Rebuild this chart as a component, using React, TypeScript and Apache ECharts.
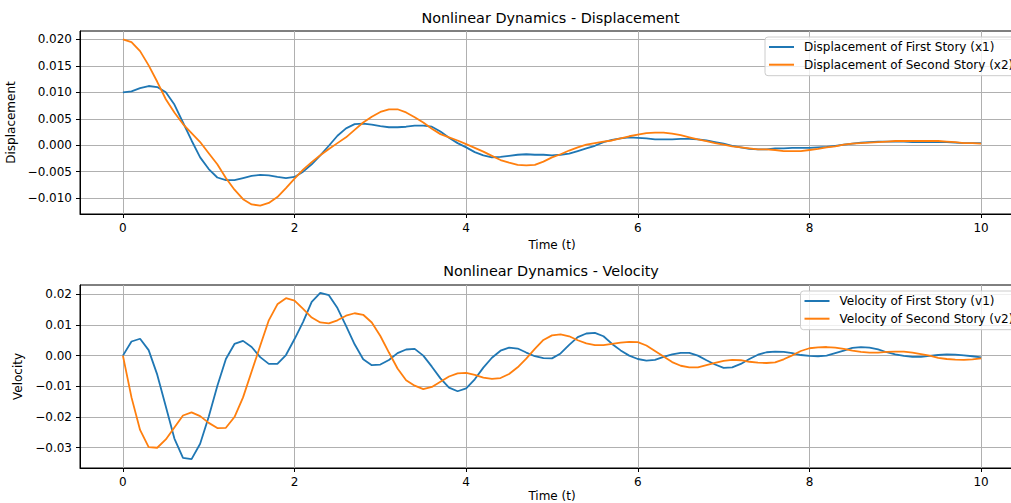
import React, { useEffect, useRef } from 'react';
import * as echarts from 'echarts';

// sample times 0.0 .. 10.0 (step 0.1)
const TIME: number[] = Array.from({ length: 101 }, (_, i) => Math.round(i) / 10);

const X1 = [
  0.0100, 0.0102, 0.0108, 0.0112, 0.0110, 0.0100, 0.0077, 0.0043, 0.0009, -0.0023,
  -0.0045, -0.0061, -0.0066, -0.0066, -0.0062, -0.0058, -0.0056, -0.0057, -0.0060, -0.0062,
  -0.0060, -0.0050, -0.0036, -0.0019, -0.0001, 0.0018, 0.0032, 0.0040, 0.0041, 0.0039,
  0.0036, 0.0034, 0.0034, 0.0035, 0.0037, 0.0037, 0.0035, 0.0026, 0.0014, 0.0004,
  -0.0004, -0.0013, -0.0019, -0.0023, -0.0022, -0.0020, -0.0018, -0.0017, -0.0018, -0.0018,
  -0.0019, -0.0018, -0.0016, -0.0011, -0.0006, -0.0001, 0.0006, 0.0010, 0.0013, 0.0015,
  0.0014, 0.0013, 0.0011, 0.0011, 0.0011, 0.0012, 0.0012, 0.0011, 0.0009, 0.0006,
  0.0003, -0.0001, -0.0004, -0.0007, -0.0008, -0.0008, -0.0006, -0.0006, -0.0005, -0.0005,
  -0.0005, -0.0004, -0.0003, -0.0001, 0.0001, 0.0003, 0.0005, 0.0006, 0.0007, 0.0007,
  0.0007, 0.0007, 0.0006, 0.0006, 0.0006, 0.0006, 0.0006, 0.0005, 0.0004, 0.0004, 0.0004,
];

const X2 = [
  0.0200, 0.0195, 0.0178, 0.0151, 0.0120, 0.0087, 0.0062, 0.0040, 0.0023, 0.0006,
  -0.0015, -0.0036, -0.0062, -0.0084, -0.0102, -0.0112, -0.0114, -0.0109, -0.0098, -0.0081,
  -0.0063, -0.0046, -0.0032, -0.0019, -0.0007, 0.0004, 0.0015, 0.0029, 0.0043, 0.0054,
  0.0063, 0.0068, 0.0068, 0.0062, 0.0053, 0.0043, 0.0031, 0.0021, 0.0015, 0.0009,
  0.0002, -0.0005, -0.0012, -0.0020, -0.0028, -0.0033, -0.0037, -0.0038, -0.0037, -0.0031,
  -0.0023, -0.0017, -0.0010, -0.0004, 0.0001, 0.0004, 0.0007, 0.0009, 0.0013, 0.0017,
  0.0020, 0.0023, 0.0024, 0.0024, 0.0022, 0.0019, 0.0015, 0.0011, 0.0008, 0.0004,
  0.0001, -0.0002, -0.0004, -0.0006, -0.0008, -0.0008, -0.0009, -0.0011, -0.0011, -0.0011,
  -0.0009, -0.0007, -0.0004, -0.0002, 0.0001, 0.0003, 0.0004, 0.0005, 0.0006, 0.0007,
  0.0008, 0.0008, 0.0008, 0.0008, 0.0008, 0.0008, 0.0007, 0.0006, 0.0004, 0.0004, 0.0003,
];

const V1 = [
  0.0000, 0.0046, 0.0055, 0.0018, -0.0062, -0.0166, -0.0270, -0.0333, -0.0337, -0.0287,
  -0.0199, -0.0099, -0.0011, 0.0038, 0.0048, 0.0028, -0.0005, -0.0027, -0.0027, 0.0002,
  0.0054, 0.0110, 0.0175, 0.0204, 0.0197, 0.0155, 0.0097, 0.0037, -0.0012, -0.0031,
  -0.0029, -0.0014, 0.0008, 0.0020, 0.0022, 0.0000, -0.0036, -0.0074, -0.0104, -0.0116,
  -0.0107, -0.0077, -0.0039, -0.0007, 0.0016, 0.0026, 0.0023, 0.0010, -0.0002, -0.0008,
  -0.0009, 0.0007, 0.0035, 0.0060, 0.0072, 0.0074, 0.0063, 0.0038, 0.0017, 0.0000,
  -0.0011, -0.0016, -0.0014, -0.0004, 0.0004, 0.0009, 0.0009, 0.0000, -0.0015, -0.0029,
  -0.0040, -0.0038, -0.0027, -0.0011, 0.0003, 0.0011, 0.0013, 0.0012, 0.0008, 0.0002,
  -0.0001, -0.0002, 0.0000, 0.0008, 0.0016, 0.0025, 0.0028, 0.0026, 0.0020, 0.0011,
  0.0004, -0.0001, -0.0004, -0.0004, -0.0001, 0.0002, 0.0004, 0.0003, 0.0001, -0.0002, -0.0006,
];

const V2 = [
  0.0000, -0.0136, -0.0242, -0.0298, -0.0300, -0.0273, -0.0234, -0.0195, -0.0185, -0.0197,
  -0.0219, -0.0236, -0.0235, -0.0200, -0.0136, -0.0052, 0.0032, 0.0115, 0.0167, 0.0187,
  0.0179, 0.0152, 0.0124, 0.0108, 0.0105, 0.0115, 0.0130, 0.0138, 0.0133, 0.0108,
  0.0064, 0.0010, -0.0042, -0.0080, -0.0098, -0.0109, -0.0102, -0.0085, -0.0068, -0.0058,
  -0.0056, -0.0063, -0.0072, -0.0076, -0.0073, -0.0060, -0.0038, -0.0010, 0.0022, 0.0051,
  0.0066, 0.0069, 0.0063, 0.0050, 0.0040, 0.0034, 0.0034, 0.0038, 0.0042, 0.0045,
  0.0044, 0.0033, 0.0015, -0.0003, -0.0021, -0.0033, -0.0038, -0.0038, -0.0031, -0.0024,
  -0.0017, -0.0014, -0.0015, -0.0020, -0.0023, -0.0024, -0.0022, -0.0012, 0.0001, 0.0015,
  0.0024, 0.0027, 0.0028, 0.0026, 0.0022, 0.0016, 0.0012, 0.0010, 0.0010, 0.0012,
  0.0013, 0.0013, 0.0010, 0.0005, 0.0000, -0.0007, -0.0011, -0.0013, -0.0014, -0.0012, -0.0009,
];

const X_TICKS = [0, 2, 4, 6, 8, 10];
const DISP_TICKS = [-0.01, -0.005, 0, 0.005, 0.01, 0.015, 0.02];
const VEL_TICKS = [-0.03, -0.02, -0.01, 0, 0.01, 0.02];

const NAMES = {
  x1: 'Displacement of First Story (x1)',
  x2: 'Displacement of Second Story (x2)',
  v1: 'Velocity of First Story (v1)',
  v2: 'Velocity of Second Story (v2)',
};

const BLUE = '#1f77b4';
const ORANGE = '#ff7f0e';
const FONT = 'DejaVu Sans';

const pair = (ys: number[]) => TIME.map((t, i) => [t, ys[i]]);
const fmt = (d: number) => (v: number) => {
  const s = Math.abs(v) < 1e-12 ? (0).toFixed(d) : v.toFixed(d);
  return s.replace('-', '\u2212');
};

export default function App() {
  const ref = useRef<HTMLDivElement>(null);
  useEffect(() => {
    const chart = echarts.init(ref.current!, null, { renderer: 'svg' });
    const textBase = { fontFamily: FONT, fontSize: 12, color: '#000' };
    const xAxis = (gridIndex: number, gap: number) => ({
      type: 'value',
      gridIndex,
      min: -0.5,
      max: 10.5,
      name: 'Time (t)',
      nameLocation: 'middle',
      nameGap: gap,
      nameTextStyle: { ...textBase },
      axisLine: { show: true, onZero: false, lineStyle: { color: '#000', width: 1 } },
      axisTick: { show: true, length: 4, customValues: X_TICKS, lineStyle: { color: '#000', width: 1 } },
      axisLabel: { ...textBase, margin: 8, customValues: X_TICKS, formatter: (v: number) => String(v) },
      splitLine: { show: true, lineStyle: { color: '#b0b0b0', width: 1 } },
    });
    const yAxis = (gridIndex: number, name: string, min: number, max: number, ticks: number[], d: number, gap: number) => ({
      type: 'value',
      gridIndex,
      min,
      max,
      name,
      nameLocation: 'middle',
      nameGap: gap,
      nameTextStyle: { ...textBase },
      axisLine: { show: true, onZero: false, lineStyle: { color: '#000', width: 1 } },
      axisTick: { show: true, length: 4, customValues: ticks, lineStyle: { color: '#000', width: 1 } },
      axisLabel: { ...textBase, margin: 8, customValues: ticks, formatter: fmt(d) },
      splitLine: { show: true, lineStyle: { color: '#b0b0b0', width: 1 } },
    });
    const legend = (left: number, top: number, data: string[]) => ({
      orient: 'vertical',
      left,
      top,
      data,
      itemWidth: 25,
      itemHeight: 12,
      itemGap: 5.7,
      padding: [4, 6, 5, 3],
      backgroundColor: 'rgba(255,255,255,0.8)',
      borderColor: '#cccccc',
      borderWidth: 1,
      borderRadius: 3,
      itemStyle: { opacity: 0 },
      textStyle: { ...textBase, padding: [0, 0, 0, 5] },
    });
    const line = (name: string, ys: number[], color: string, idx: number) => ({
      type: 'line',
      name,
      xAxisIndex: idx,
      yAxisIndex: idx,
      data: pair(ys),
      symbol: 'none',
      showSymbol: false,
      lineStyle: { color, width: 1.8 },
      itemStyle: { color },
    });
    const gridBase = {
      left: 80, width: 944, height: 183, show: true, borderColor: '#000', borderWidth: 1,
      backgroundColor: 'transparent', containLabel: false, outerBoundsMode: 'none',
    };
    chart.setOption({
      animation: false,
      backgroundColor: '#fff',
      title: [
        { text: 'Nonlinear Dynamics - Displacement', left: 545.5, top: 6, textAlign: 'center',
          textStyle: { fontFamily: FONT, fontSize: 14.4, fontWeight: 'normal', color: '#000' } },
        { text: 'Nonlinear Dynamics - Velocity', left: 546, top: 259, textAlign: 'center',
          textStyle: { fontFamily: FONT, fontSize: 14.4, fontWeight: 'normal', color: '#000' } },
      ],
      grid: [
        { ...gridBase, top: 31 },
        { ...gridBase, top: 285 },
      ],
      xAxis: [xAxis(0, 25), xAxis(1, 22)],
      yAxis: [
        yAxis(0, 'Displacement', -0.0130, 0.0216, DISP_TICKS, 3, 54),
        yAxis(1, 'Velocity', -0.0366, 0.0230, VEL_TICKS, 2, 44),
      ],
      legend: [
        legend(765, 37, [NAMES.x1, NAMES.x2]),
        legend(800.5, 291, [NAMES.v1, NAMES.v2]),
      ],
      series: [
        line(NAMES.x1, X1, BLUE, 0),
        line(NAMES.x2, X2, ORANGE, 0),
        line(NAMES.v1, V1, BLUE, 1),
        line(NAMES.v2, V2, ORANGE, 1),
      ],
    });
    return () => chart.dispose();
  }, []);
  return (
    <div style={{ position: 'fixed', left: 0, top: 0, width: 1011, height: 503, overflow: 'hidden', background: '#fff' }}>
      <div ref={ref} style={{ width: 1060, height: 503 }} />
    </div>
  );
}
